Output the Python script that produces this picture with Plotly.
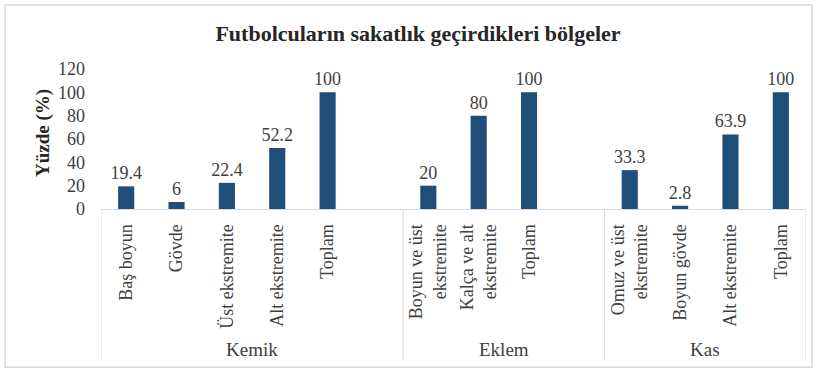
import plotly.graph_objects as go

# Category layout: each group keeps one empty slot after it except the last
groups = ["Kemik", "Eklem", "Kas"]
kemik_labels = ["Baş boyun", "Gövde", "Üst ekstremite", "Alt ekstremite", "Toplam"]
kemik_values = [19.4, 6, 22.4, 52.2, 100]
eklem_labels = ["Boyun ve üst<br>ekstremite", "Kalça ve alt<br>ekstremite", "Toplam"]
eklem_values = [20, 80, 100]
kas_labels = ["Omuz ve üst<br>ekstremite", "Boyun gövde", "Alt ekstremite", "Toplam"]
kas_values = [33.3, 2.8, 63.9, 100]
y_ticks = [0, 20, 40, 60, 80, 100, 120]

group_labels = [kemik_labels, eklem_labels, kas_labels]
group_values = [kemik_values, eklem_values, kas_values]
group_slots = [6, 4, 4]

xs, labels, values = [], [], []
bounds = [-0.5]
start = 0
for lab, val, n in zip(group_labels, group_values, group_slots):
    for i, (l, v) in enumerate(zip(lab, val)):
        xs.append(start + i)
        labels.append(l)
        values.append(v)
    start += n
    bounds.append(start - 0.5)

FONT = "Liberation Serif"
BAR = "#1f4e79"
GRID = "#d9d9d9"
TXT = "#404040"

fig = go.Figure(
    go.Bar(
        x=xs,
        y=values,
        width=0.32,
        marker=dict(color=BAR, line=dict(width=0)),
        text=[f"{v:g}" for v in values],
        textposition="outside",
        constraintext="none",
        textfont=dict(family=FONT, size=18, color=TXT),
        cliponaxis=False,
        hoverinfo="skip",
    )
)

shapes = []
# group dividers below the axis
for b in bounds:
    shapes.append(dict(type="line", xref="x", yref="paper", x0=b, x1=b,
                       y0=0, y1=-1.08, line=dict(color=GRID, width=1)))
# outer chart frame
shapes.append(dict(type="rect", xref="paper", yref="paper",
                   x0=-0.136, x1=1.0085, y0=-1.13, y1=1.457,
                   line=dict(color=GRID, width=1.5), fillcolor="rgba(0,0,0,0)",
                   layer="below"))

annotations = []
for g, lo, hi in zip(groups, bounds[:-1], bounds[1:]):
    annotations.append(dict(x=(lo + hi) / 2, y=-1.007, xref="x", yref="paper",
                            text=g, showarrow=False,
                            font=dict(family=FONT, size=19, color=TXT),
                            xanchor="center", yanchor="middle"))
annotations.append(dict(x=-0.0823, y=0.543, xref="paper", yref="paper",
                        text="<b>Yüzde (%)</b>", textangle=-90, showarrow=False,
                        font=dict(family=FONT, size=19, color="#262626"),
                        xanchor="center", yanchor="middle"))

fig.update_layout(
    width=818,
    height=373,
    margin=dict(l=101, r=12, t=69, b=164),
    paper_bgcolor="white",
    plot_bgcolor="white",
    showlegend=False,
    font=dict(family=FONT),
    title=dict(text="<b>Futbolcuların sakatlık geçirdikleri bölgeler</b>",
               x=0.511, xanchor="center", y=0.912, yanchor="middle",
               font=dict(family=FONT, size=22, color="#262626")),
    shapes=shapes,
    annotations=annotations,
    xaxis=dict(range=[-0.5, bounds[-1]], tickmode="array", tickvals=xs,
               ticktext=labels, tickangle=-90, showgrid=False, zeroline=False,
               showline=True, linecolor=GRID, linewidth=1, ticks="",
               ticklabelstandoff=7,
               tickfont=dict(family=FONT, size=18, color=TXT)),
    yaxis=dict(range=[0, 120], tickmode="array", tickvals=y_ticks,
               showgrid=False, zeroline=False, showline=False, ticks="",
               ticklabelstandoff=15,
               tickfont=dict(family=FONT, size=18, color=TXT)),
)

fig.write_html("out.html")
